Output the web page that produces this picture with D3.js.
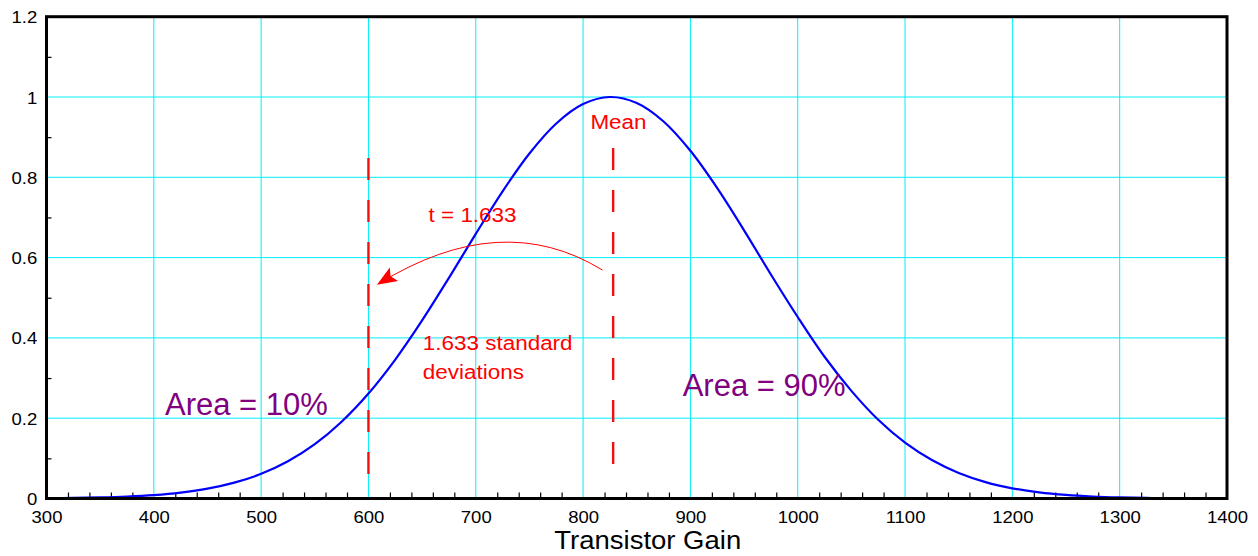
<!DOCTYPE html>
<html>
<head>
<meta charset="utf-8">
<title>Transistor Gain</title>
<script src="https://d3js.org/d3.v7.min.js"></script>
<style>
  body { margin: 0; background: #fff; }
  svg { display: block; font-family: "Liberation Sans", Arial, Helvetica, sans-serif; }
</style>
</head>
<body>
<svg id="chart" width="1258" height="556"></svg>
<script>
// values
const gain = [300, 325, 350, 375, 400, 425, 450, 475, 500, 525, 550, 575, 600, 625, 650, 675, 700, 725, 750, 775, 800,
              825, 850, 875, 900, 925, 950, 975, 1000, 1025, 1050, 1075, 1100, 1125, 1150, 1175, 1200, 1225, 1250,
              1275, 1300, 1325, 1350, 1375, 1400];
const density = [0.0007, 0.0014, 0.0026, 0.0048, 0.0085, 0.0147, 0.0244, 0.0394, 0.0614, 0.0927, 0.1353, 0.1913,
                 0.2615, 0.3461, 0.4435, 0.5496, 0.659, 0.7651, 0.8593, 0.934, 0.9824, 1.0, 0.985, 0.939, 0.866,
                 0.773, 0.668, 0.558, 0.452, 0.353, 0.268, 0.196, 0.139, 0.0957, 0.0636, 0.0409, 0.0254, 0.0153,
                 0.0089, 0.005, 0.0027, 0.0014, 0.0007, 0.0004, 0.0002];
const xTicks = [300, 400, 500, 600, 700, 800, 900, 1000, 1100, 1200, 1300, 1400];
const yTicks = [0, 0.2, 0.4, 0.6, 0.8, 1, 1.2];
const xMinor = d3.range(320, 1400, 20).filter(v => v % 100 !== 0);
const yMinor = [0.1, 0.3, 0.5, 0.7, 0.9, 1.1];
const cutoff = 600;     // t = 1.633 point
const meanGain = 828;

const svg = d3.select("#chart");
const x = d3.scaleLinear().domain([300, 1400]).range([46.5, 1227]);
const y = d3.scaleLinear().domain([0, 1.2]).range([498.5, 16.7]);
const stretch = "scale(1.09,1)";

// grid
svg.append("g").selectAll("line").data(xTicks.slice(1, -1)).join("line")
  .attr("x1", d => x(d)).attr("x2", d => x(d)).attr("y1", y(1.2)).attr("y2", y(0))
  .attr("stroke", "#00f0f8").attr("stroke-width", 1);
svg.append("g").selectAll("line").data(yTicks.slice(1, -1)).join("line")
  .attr("x1", x(300)).attr("x2", x(1400)).attr("y1", d => y(d)).attr("y2", d => y(d))
  .attr("stroke", "#00f0f8").attr("stroke-width", 1);

// minor ticks, pointing inward
svg.append("g").attr("transform", `translate(0,${y(0)})`)
  .call(d3.axisBottom(x).tickValues(xMinor).tickSize(-6).tickFormat(""))
  .call(g => g.select(".domain").remove())
  .selectAll("line").attr("stroke", "#000").attr("stroke-width", 1.2);
svg.append("g").attr("transform", `translate(${x(300)},0)`)
  .call(d3.axisLeft(y).tickValues(yMinor).tickSize(-5).tickFormat(""))
  .call(g => g.select(".domain").remove())
  .selectAll("line").attr("stroke", "#000").attr("stroke-width", 1.2);

// tick labels
const xAxis = svg.append("g").attr("transform", `translate(0,${y(0)})`)
  .call(d3.axisBottom(x).tickValues(xTicks).tickSize(0).tickFormat(d3.format("d")));
xAxis.select(".domain").remove();
xAxis.selectAll("text").attr("y", 25).attr("dy", null)
  .attr("font-size", 17).attr("font-family", null).attr("fill", "#000").attr("transform", stretch);

const yAxis = svg.append("g").attr("transform", `translate(${x(300)},0)`)
  .call(d3.axisLeft(y).tickValues(yTicks).tickSize(0).tickFormat(d => d3.format("")(d)));
yAxis.select(".domain").remove();
yAxis.selectAll("text").attr("x", -8.5).attr("dy", 6)
  .attr("font-size", 17).attr("font-family", null).attr("fill", "#000").attr("transform", stretch);

// curve
const line = d3.line().x((d, i) => x(gain[i])).y(d => y(d)).curve(d3.curveCatmullRom);
svg.append("path").datum(density).attr("d", line)
  .attr("fill", "none").attr("stroke", "#0000ff").attr("stroke-width", 2.2);

// dashed markers
svg.append("line").attr("x1", x(cutoff)).attr("x2", x(cutoff)).attr("y1", y(0.848)).attr("y2", y(0.056))
  .attr("stroke", "#ee1111").attr("stroke-width", 2.4).attr("stroke-dasharray", "22,20");
svg.append("line").attr("x1", x(meanGain)).attr("x2", x(meanGain)).attr("y1", y(0.873)).attr("y2", y(0.078))
  .attr("stroke", "#ee1111").attr("stroke-width", 2.4).attr("stroke-dasharray", "22,20");

// arrow from the mean to the cutoff
svg.append("defs").append("marker")
  .attr("id", "head").attr("viewBox", "0 0 10 10").attr("refX", 9).attr("refY", 5)
  .attr("markerWidth", 20).attr("markerHeight", 20).attr("markerUnits", "userSpaceOnUse")
  .attr("orient", "auto")
  .append("path").attr("d", "M0,1 L10,5 L0,9 L2,5 Z").attr("fill", "#ff0000");
const arcPath = d3.path();
arcPath.moveTo(x(818), y(0.569));
arcPath.quadraticCurveTo(x(724), y(0.7235), x(609.5), y(0.535));
svg.append("path").attr("d", arcPath.toString())
  .attr("fill", "none").attr("stroke", "#ff0000").attr("stroke-width", 1)
  .attr("marker-end", "url(#head)");

// annotations
function label(txt, gx, gy, size, color, anchor, sx) {
  svg.append("text")
    .attr("transform", `translate(${x(gx)},${y(gy)}) scale(${sx},1)`)
    .attr("text-anchor", anchor).attr("font-size", size).attr("fill", color).text(txt);
}
label("Mean", 833, 0.92, 21, "#ff0000", "middle", 1.07);
label("t = 1.633", 656, 0.689, 21, "#ff0000", "start", 1.07);
label("1.633 standard", 650.6, 0.37, 21, "#ff0000", "start", 1.07);
label("deviations", 650.6, 0.298, 21, "#ff0000", "start", 1.07);
label("Area = 10%", 410.4, 0.208, 31, "#800080", "start", 1.0);
label("Area = 90%", 892.8, 0.255, 31, "#800080", "start", 1.0);

// frame
svg.append("rect").attr("x", x(300)).attr("y", y(1.2))
  .attr("width", x(1400) - x(300)).attr("height", y(0) - y(1.2))
  .attr("fill", "none").attr("stroke", "#000").attr("stroke-width", 3);

// axis title
svg.append("text").attr("transform", `translate(${(x(300) + x(1400)) / 2 + 11},549) scale(1.1,1)`)
  .attr("text-anchor", "middle").attr("font-size", 25).attr("fill", "#000").text("Transistor Gain");
</script>
</body>
</html>
